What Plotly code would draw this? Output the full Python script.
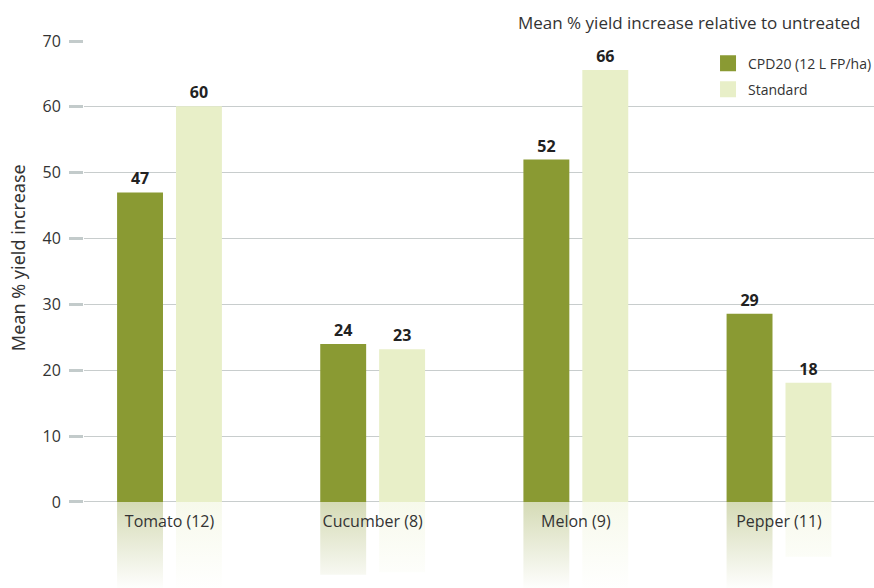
import plotly.graph_objects as go

categories = ["Tomato (12)", "Cucumber (8)", "Melon (9)", "Pepper (11)"]
cpd20 = [47, 24, 52, 28.6]
standard = [60.1, 23.2, 65.6, 18.1]
series_names = ["CPD20 (12 L FP/ha)", "Standard"]
y_ticks = [0, 10, 20, 30, 40, 50, 60, 70]

C_CPD = (138, 154, 51)
C_STD = (232, 239, 200)
FONT = "Open Sans"
TXT = "#333333"

offset = 0.145
width = 0.226
refl_ratio = 0.46

fig = go.Figure()

def refl_trace(vals, shift, rgb):
    xs, ys = [], []
    for i, v in enumerate(vals):
        x0 = i + shift - width / 2
        x1 = i + shift + width / 2
        L = v * refl_ratio
        xs += [x0, x1, x1, x0, x0, None]
        ys += [0, 0, -L, -L, 0, None]
    r, g, b = rgb
    return go.Scatter(
        x=xs, y=ys, mode="lines", fill="toself", line=dict(width=0),
        fillgradient=dict(type="vertical", start=0, stop=-13.5,
                          colorscale=[[0, f"rgba({r},{g},{b},0.36)"],
                                      [1, f"rgba({r},{g},{b},0)"]]),
        hoverinfo="skip", showlegend=False)

fig.add_trace(refl_trace(cpd20, -offset, C_CPD))
fig.add_trace(refl_trace(standard, offset, C_STD))

for vals, shift, rgb, name in [(cpd20, -offset, C_CPD, series_names[0]),
                               (standard, offset, C_STD, series_names[1])]:
    col = "rgb(%d,%d,%d)" % rgb
    fig.add_trace(go.Bar(
        x=[i + shift for i in range(len(vals))], y=vals, width=width,
        marker=dict(color=col, line=dict(width=0)),
        texttemplate="%{y:.0f}", textposition="outside",
        textfont=dict(family=FONT, size=16, color="#222222", weight="bold"),
        cliponaxis=False, showlegend=False, name=name))
    fig.add_trace(go.Scatter(
        x=[None], y=[None], mode="markers", name=name, legendgroup=name,
        marker=dict(symbol="square", size=16, color=col)))

fig.update_layout(
    width=874, height=588,
    margin=dict(l=84, r=0, t=41, b=0, autoexpand=False),
    paper_bgcolor="white", plot_bgcolor="white",
    barmode="overlay",
    font=dict(family=FONT, size=16, color=TXT),
    xaxis=dict(range=[-0.4208, 3.4676], tickvals=list(range(len(categories))),
               ticktext=categories, showgrid=False, zeroline=False,
               showline=False, ticks="", anchor="free", position=0.157,
               ticklabelstandoff=8, tickfont=dict(size=16, color=TXT)),
    yaxis=dict(range=[-13.06, 70], tickvals=y_ticks, showgrid=True,
               gridcolor="#c8cdcd", gridwidth=1, zeroline=False,
               ticks="outside", ticklen=14, tickwidth=3, tickcolor="#c3cbcb",
               ticklabelstandoff=5, tickfont=dict(size=16, color=TXT)),
    legend=dict(x=0.7899, y=0.988, xanchor="left", yanchor="top",
                traceorder="grouped", tracegroupgap=5,
                font=dict(size=14, color=TXT), bgcolor="rgba(0,0,0,0)"),
    annotations=[
        dict(text="Mean % yield increase relative to untreated", xref="paper",
             yref="paper", x=0.986, y=1.0, yshift=19, xanchor="right",
             yanchor="middle", showarrow=False, font=dict(size=17, color=TXT)),
        dict(text="Mean % yield increase", xref="paper", yref="paper",
             x=-0.0835, y=0.603, textangle=-90, xanchor="center",
             yanchor="middle", showarrow=False,
             font=dict(family="Noto Sans", size=18, color=TXT)),
    ],
)

fig.write_html("out.html")
